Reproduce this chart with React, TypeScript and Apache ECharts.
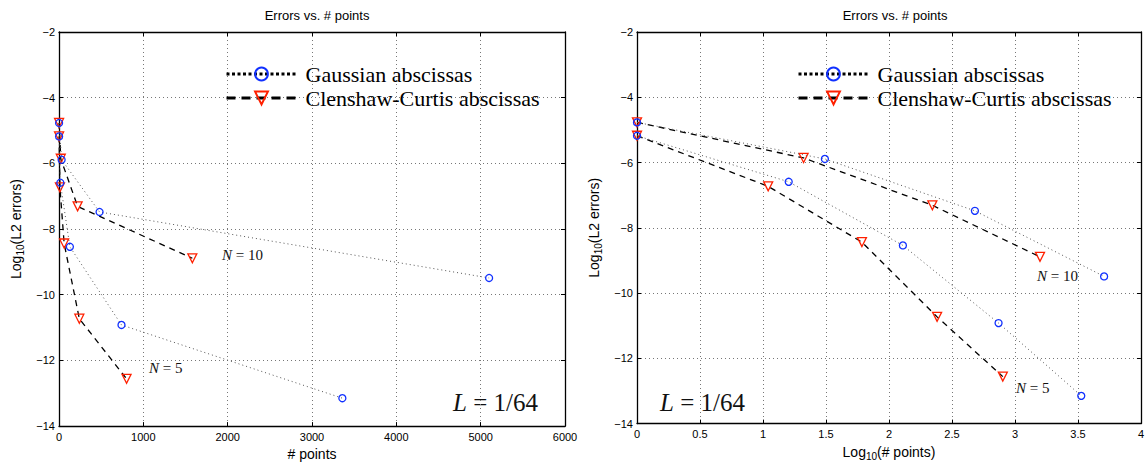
import React, { useEffect, useRef } from 'react';
import * as echarts from 'echarts';

// ---- data (log10 of L2 errors vs. number of points) ----
const gaussN10Points = [1, 31, 481, 5100];
const gaussN10LogErr = [-4.77, -5.89, -7.48, -9.49];
const ccN10Points = [1, 21, 221, 1581];
const ccN10LogErr = [-4.77, -5.86, -7.31, -8.89];
const gaussN5Points = [1, 16, 129, 741, 3360];
const gaussN5LogErr = [-5.18, -6.59, -8.54, -10.92, -13.15];
const ccN5Points = [1, 11, 61, 241, 801];
const ccN5LogErr = [-5.18, -6.73, -8.44, -10.73, -12.56];

const seriesNames = ['Gaussian abscissas', 'Clenshaw-Curtis abscissas'];
const chartTitle = 'Errors vs. # points';
const leftXAxis = { min: 0, max: 6000, interval: 1000 };
const rightXAxis = { min: 0, max: 4, interval: 0.5 };
const yAxisRange = { min: -14, max: -2, interval: 2 };
const annotationN10 = 'N = 10';
const annotationN5 = 'N = 5';
const annotationL = 'L = 1/64';

const SANS = '"Liberation Sans", Arial, Helvetica, sans-serif';
const SERIF = '"Liberation Serif", "Times New Roman", serif';
const BLUE = '#1030ff';
const RED = '#ff2000';

const GRIDS = [
  { left: 59, top: 32, width: 506, height: 399 },
  { left: 637, top: 32, width: 506, height: 399 },
];

function minusFmt(v: number) {
  return v < 0 ? '\u2212' + Math.abs(v) : String(v);
}

function makeSeries(
  name: string,
  pts: number[],
  errs: number[],
  gi: number,
  logX: boolean,
  gauss: boolean
) {
  return {
    type: 'line',
    name,
    xAxisIndex: gi * 2,
    yAxisIndex: gi * 2,
    data: pts.map((p, i) => [logX ? Math.log10(p) : p, errs[i]]),
    symbol: gauss ? 'circle' : 'triangle',
    symbolRotate: gauss ? 0 : 180,
    symbolSize: gauss ? 7 : 9,
    showAllSymbol: true,
    lineStyle: gauss
      ? { color: '#555', width: 1, type: [1, 3] }
      : { color: '#000', width: 1.3, type: [6, 5] },
    itemStyle: {
      color: 'rgba(255,255,255,0)',
      borderColor: gauss ? BLUE : RED,
      borderWidth: 1.3,
    },
    emphasis: { disabled: true },
    z: gauss ? 3 : 2,
  };
}

function subLabel(pre: string, post: string) {
  return `{n|${pre}}{s|10}{n|${post}}`;
}

const richSub = {
  n: { fontFamily: SANS, fontSize: 14, color: '#000' },
  s: { fontFamily: SANS, fontSize: 10, color: '#000', padding: [9, 0, 0, 0] },
};

function buildAxes(gi: number, xr: any, xName: string) {
  const xs = [
    {
      type: 'value',
      gridIndex: gi,
      position: 'bottom',
      ...xr,
      name: xName,
      nameLocation: 'middle',
      nameGap: 17,
      nameTextStyle: { fontFamily: SANS, fontSize: 14, color: '#000', rich: richSub },
      axisLine: { show: true, onZero: false, lineStyle: { color: '#000', width: 1.3 } },
      axisTick: { show: true, inside: true, length: 4, lineStyle: { color: '#000' } },
      axisLabel: {
        fontFamily: SANS,
        fontSize: 11,
        color: '#000',
        margin: 5,
        formatter: (v: number) => String(v),
      },
      splitLine: { show: true, lineStyle: { color: '#777', width: 1, type: [1, 3] } },
    },
    {
      type: 'value',
      gridIndex: gi,
      position: 'top',
      ...xr,
      axisLine: { show: true, onZero: false, lineStyle: { color: '#000', width: 1.3 } },
      axisTick: { show: true, inside: true, length: 4, lineStyle: { color: '#000' } },
      axisLabel: { show: false },
      splitLine: { show: false },
    },
  ];
  const ys = [
    {
      type: 'value',
      gridIndex: gi,
      position: 'left',
      ...yAxisRange,
      name: subLabel('Log', '(L2 errors)'),
      nameLocation: 'middle',
      nameGap: 34,
      nameTextStyle: { rich: richSub },
      axisLine: { show: true, onZero: false, lineStyle: { color: '#000', width: 1.3 } },
      axisTick: { show: true, inside: true, length: 4, lineStyle: { color: '#000' } },
      axisLabel: { fontFamily: SANS, fontSize: 11, color: '#000', margin: 4, formatter: minusFmt },
      splitLine: { show: true, lineStyle: { color: '#777', width: 1, type: [1, 3] } },
    },
    {
      type: 'value',
      gridIndex: gi,
      position: 'right',
      ...yAxisRange,
      axisLine: { show: true, onZero: false, lineStyle: { color: '#000', width: 1.3 } },
      axisTick: { show: true, inside: true, length: 4, lineStyle: { color: '#000' } },
      axisLabel: { show: false },
      splitLine: { show: false },
    },
  ];
  return { xs, ys };
}

function legendFor(left: number) {
  return {
    orient: 'vertical',
    left,
    top: 63,
    padding: 0,
    itemWidth: 70,
    itemHeight: 16,
    itemGap: 2,
    selectedMode: false,
    textStyle: {
      fontFamily: SERIF,
      fontSize: 22,
      lineHeight: 20,
      color: '#000',
      padding: [0, 0, 0, 4],
    },
    data: [
      { name: seriesNames[0], lineStyle: { width: 3, type: [3, 2.5], color: '#000' } },
      { name: seriesNames[1], lineStyle: { width: 3, type: [9, 6], color: '#000' } },
    ],
  };
}

function annot(x: number, y: number, text: string, size: number) {
  const [a, ...rest] = text.split(' ');
  return {
    type: 'text',
    x,
    y,
    silent: true,
    style: {
      text: `{i|${a}}{r| ${rest.join(' ')}}`,
      verticalAlign: 'middle',
      fill: '#111',
      rich: {
        i: { fontFamily: SERIF, fontStyle: 'italic', fontSize: size, color: '#111' },
        r: { fontFamily: SERIF, fontSize: size, color: '#111' },
      },
    },
  };
}

export default function App() {
  const ref = useRef<HTMLDivElement>(null);
  useEffect(() => {
    if (!ref.current) return;
    const chart = echarts.init(ref.current, undefined, { renderer: 'svg' });
    const a0 = buildAxes(0, leftXAxis, '# points');
    const a1 = buildAxes(1, rightXAxis, subLabel('Log', '(# points)'));
    const series: any[] = [];
    [0, 1].forEach((gi) => {
      const logX = gi === 1;
      series.push(makeSeries(seriesNames[0], gaussN10Points, gaussN10LogErr, gi, logX, true));
      series.push(makeSeries(seriesNames[1], ccN10Points, ccN10LogErr, gi, logX, false));
      series.push(makeSeries(seriesNames[0], gaussN5Points, gaussN5LogErr, gi, logX, true));
      series.push(makeSeries(seriesNames[1], ccN5Points, ccN5LogErr, gi, logX, false));
    });
    chart.setOption({
      animation: false,
      backgroundColor: '#fff',
      title: GRIDS.map((g) => ({
        text: chartTitle,
        left: g.left + g.width / 2,
        top: 4,
        textAlign: 'center',
        textStyle: { fontFamily: SANS, fontSize: 13, fontWeight: 'normal', color: '#000' },
      })),
      legend: [legendFor(225), legendFor(797)],
      grid: GRIDS.map((g) => ({ ...g, show: false, containLabel: false })),
      xAxis: [...a0.xs, ...a1.xs],
      yAxis: [...a0.ys, ...a1.ys],
      series,
      graphic: [
        annot(222, 255, annotationN10, 15),
        annot(149, 368, annotationN5, 15),
        annot(1037, 276, annotationN10, 15),
        annot(1016, 388, annotationN5, 15),
        annot(453, 402, annotationL, 25),
        annot(660, 402, annotationL, 25),
      ],
    });
    return () => chart.dispose();
  }, []);
  return (
    <div
      ref={ref}
      style={{ position: 'fixed', left: 0, top: 0, width: 1147, height: 466, background: '#fff' }}
    />
  );
}
